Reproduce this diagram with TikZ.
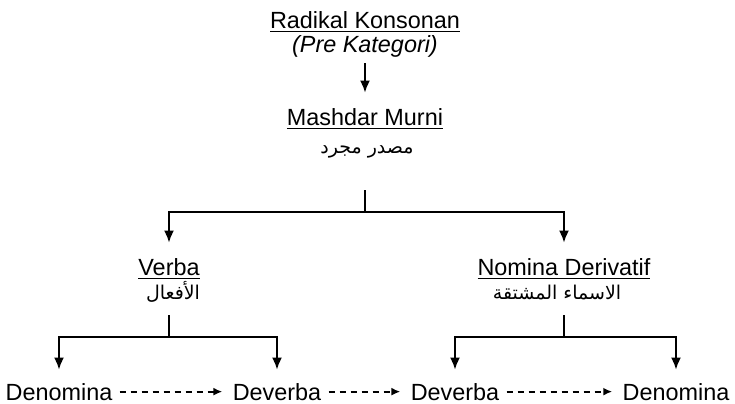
\documentclass[tikz,border=0pt]{standalone}
\usepackage{fontspec}
\setmainfont{Liberation Sans}
\newfontfamily\arabicfont[Script=Arabic]{DejaVu Sans}
\TeXXeTstate=1
\usetikzlibrary{arrows.meta}

\begin{document}
\begin{tikzpicture}[x=0.5pt, y=-0.5pt, font=\fontsize{11.7}{14}\selectfont,
          >={Latex[length=6pt,width=5pt]},
          every node/.style={inner sep=0pt, anchor=base},
          arb/.style={font=\fontsize{9.5}{11}\selectfont\arabicfont},
          lnk/.style={line width=1pt},
          arr/.style={lnk, ->, shorten >=7.5pt},
          dsh/.style={->, line width=1pt, dash pattern=on 3pt off 2.5pt,
                      shorten <=3.5pt, shorten >=5pt, >={Latex[length=4.5pt,width=4pt]}}]
        \useasboundingbox (0,0) rectangle (735,403);
        % top
        \node (rk) at (365,28) {\underline{Radikal Konsonan}};
        \node (pk) at (365,52) {\itshape (Pre Kategori)};
        \node (mm) at (365,125) {\underline{Mashdar Murni}};
        \node[arb] (mmar) at (367,153) {\beginR مصدر مجرد\endR};
        \draw[arr, shorten <=3pt] (pk) -- (mm);
        % second level
        \node (vb) at (169,275) {\underline{Verba}};
        \node[arb] (vbar) at (173,299) {\beginR الأفعال\endR};
        \node (nd) at (564,275) {\underline{Nomina Derivatif}};
        \node[arb] (ndar) at (557,299) {\beginR الاسماء المشتقة\endR};
        \coordinate (s1) at (365,190);
        \coordinate (j1) at (365,212);
        \draw[lnk] (s1) -- (j1);
        \draw[arr] (j1) -| (vb);
        \draw[arr] (j1) -| (nd);
        % bottom
        \node (dn1) at (59,400) {Denomina};
        \node (dv1) at (277,400) {Deverba};
        \node (dv2) at (455,400) {Deverba};
        \node (dn2) at (676,400) {Denomina};
        \coordinate (s2) at (169,315);
        \coordinate (j2) at (169,337);
        \coordinate (s3) at (564,315);
        \coordinate (j3) at (564,337);
        \draw[lnk] (s2) -- (j2);
        \draw[lnk] (s3) -- (j3);
        \draw[arr, shorten >=6.5pt] (j2) -| (dn1);
        \draw[arr, shorten >=6.5pt] (j2) -| (dv1);
        \draw[arr, shorten >=6.5pt] (j3) -| (dv2);
        \draw[arr, shorten >=6.5pt] (j3) -| (dn2);
        \draw[dsh] (dn1) -- (dv1);
        \draw[dsh] (dv1) -- (dv2);
        \draw[dsh] (dv2) -- (dn2);
      \end{tikzpicture}
\end{document}
